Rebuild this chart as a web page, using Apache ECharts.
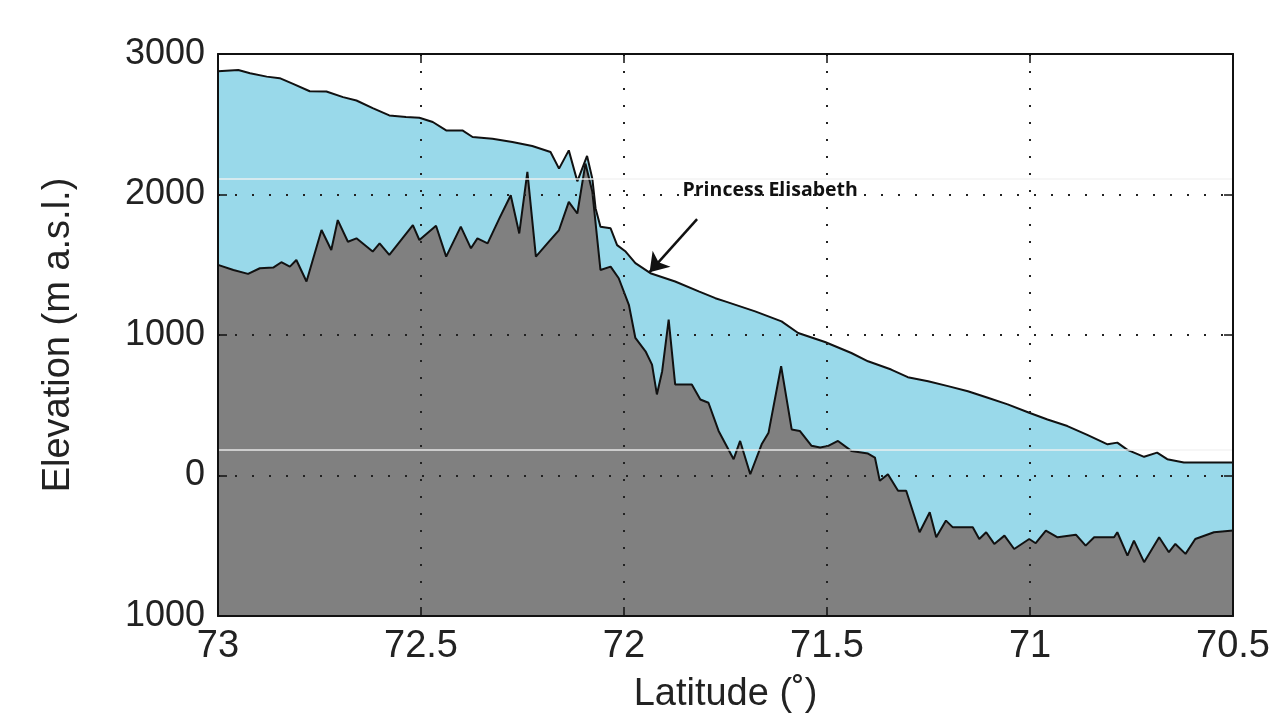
<!DOCTYPE html>
<html>
<head>
<meta charset="utf-8">
<script src="https://cdn.jsdelivr.net/npm/echarts@6/dist/echarts.min.js"></script>
<style>
  html, body { margin: 0; padding: 0; background: #fff; }
  #main { width: 1273px; height: 719px; }
</style>
</head>
<body>
<div id="main"></div>
<script>
// ice surface profile (latitude, m a.s.l.)
const surfaceLat = [73.0, 72.95, 72.921, 72.88, 72.848, 72.815, 72.774, 72.733, 72.692, 72.659,
  72.619, 72.578, 72.537, 72.504, 72.471, 72.438, 72.398, 72.373, 72.324, 72.275,
  72.226, 72.181, 72.16, 72.136, 72.115, 72.091, 72.078, 72.07, 72.058, 72.033,
  72.017, 71.996, 71.972, 71.935, 71.874, 71.816, 71.775, 71.751, 71.677, 71.612,
  71.571, 71.505, 71.44, 71.399, 71.342, 71.301, 71.251, 71.202, 71.153, 71.104,
  71.055, 71.002, 70.957, 70.908, 70.859, 70.809, 70.785, 70.76, 70.719, 70.687,
  70.662, 70.621, 70.5];
const surfaceElev = [2877, 2886, 2863, 2839, 2828, 2787, 2735, 2733, 2693, 2669,
  2615, 2563, 2551, 2546, 2516, 2456, 2456, 2409, 2397, 2374,
  2345, 2303, 2184, 2314, 2094, 2275, 2113, 1901, 1771, 1759,
  1640, 1594, 1511, 1440, 1381, 1310, 1262, 1239, 1168, 1097,
  1014, 950, 872, 813, 754, 700, 671, 636, 600, 553,
  506, 447, 399, 352, 289, 222, 234, 182, 133, 163,
  116, 92, 92];

// bedrock profile
const bedLat = [73.0, 72.962, 72.926, 72.897, 72.864, 72.844, 72.823, 72.807, 72.782, 72.745,
  72.721, 72.705, 72.68, 72.659, 72.619, 72.602, 72.578, 72.52, 72.504, 72.463,
  72.438, 72.402, 72.377, 72.361, 72.336, 72.307, 72.279, 72.258, 72.238, 72.217,
  72.185, 72.16, 72.136, 72.115, 72.095, 72.078, 72.058, 72.033, 72.013, 71.988,
  71.972, 71.947, 71.931, 71.919, 71.906, 71.89, 71.874, 71.833, 71.812, 71.792,
  71.767, 71.73, 71.714, 71.689, 71.661, 71.644, 71.613, 71.587, 71.567, 71.538,
  71.517, 71.497, 71.473, 71.44, 71.399, 71.382, 71.37, 71.35, 71.325, 71.305,
  71.272, 71.247, 71.231, 71.207, 71.19, 71.141, 71.125, 71.108, 71.088, 71.063,
  71.039, 71.002, 70.986, 70.961, 70.932, 70.887, 70.863, 70.842, 70.793, 70.785,
  70.76, 70.744, 70.719, 70.682, 70.658, 70.642, 70.617, 70.593, 70.547, 70.5];
const bedElev = [1499, 1463, 1435, 1475, 1480, 1518, 1487, 1534, 1381, 1747,
  1605, 1818, 1664, 1688, 1594, 1652, 1570, 1782, 1676, 1778,
  1558, 1771, 1617, 1688, 1652, 1830, 1995, 1723, 2161, 1558,
  1664, 1747, 1948, 1865, 2220, 2019, 1463, 1487, 1404, 1215,
  979, 884, 789, 577, 742, 1109, 648, 648, 541, 518,
  317, 116, 246, 9, 222, 305, 778, 328, 317, 211,
  199, 211, 246, 175, 156, 128, -38, 9, -109, -109,
  -404, -262, -440, -321, -369, -369, -452, -404, -487, -428,
  -523, -452, -482, -392, -440, -421, -499, -440, -440, -404,
  -570, -463, -617, -440, -546, -487, -558, -452, -404, -392];

const stationLabel = 'Princess Elisabeth';
const stationTip = [71.937, 1447];
const stationTail = [71.82, 1825];
const stationText = [71.64, 2028];
const scanLines = [2113, 184];

const surfaceData = surfaceLat.map((x, i) => [x, surfaceElev[i]]);
const bedData = bedLat.map((x, i) => [x, bedElev[i]]);

const FONT = 'Liberation Sans';
const frame = { show: true, onZero: false, lineStyle: { color: '#111', width: 2 } };
const ticks = { show: true, inside: true, length: 9, lineStyle: { color: '#111', width: 1.5 } };
const dots = { show: true, lineStyle: { color: '#222', width: 2, type: [2, 15] } };

const chart = echarts.init(document.getElementById('main'));
chart.setOption({
  backgroundColor: '#fff',
  animation: false,
  grid: { left: 218, right: 37, top: 54, bottom: 100 },
  xAxis: [
    {
      type: 'value', position: 'bottom', inverse: true,
      min: 70.5, max: 73, interval: 0.5, z: 10,
      axisLine: frame, axisTick: ticks, splitLine: dots,
      axisLabel: { fontFamily: FONT, fontSize: 38, color: '#222', margin: 12 },
      name: 'Latitude (˚)', nameLocation: 'middle', nameGap: 60,
      nameTextStyle: { fontFamily: FONT, fontSize: 38, color: '#222' }
    },
    {
      type: 'value', position: 'top', inverse: true,
      min: 70.5, max: 73, interval: 0.5, z: 10,
      axisLine: frame, axisTick: ticks,
      axisLabel: { show: false }, splitLine: { show: false }
    }
  ],
  yAxis: [
    {
      type: 'value', position: 'left',
      min: -1000, max: 3000, interval: 1000, z: 10,
      axisLine: frame, axisTick: ticks, splitLine: dots,
      axisLabel: {
        fontFamily: FONT, fontSize: 36, color: '#222', margin: 13,
        formatter: v => String(Math.abs(v))
      },
      name: 'Elevation (m a.s.l.)', nameLocation: 'middle', nameGap: 140,
      nameTextStyle: { fontFamily: FONT, fontSize: 38, color: '#222' }
    },
    {
      type: 'value', position: 'right',
      min: -1000, max: 3000, interval: 1000, z: 10,
      axisLine: frame, axisTick: ticks,
      axisLabel: { show: false }, splitLine: { show: false }
    }
  ],
  series: [
    {
      name: 'Surface', type: 'line', data: surfaceData,
      showSymbol: false, z: 2,
      lineStyle: { color: '#111', width: 2 },
      areaStyle: { color: '#99D9EA', opacity: 1, origin: 'start' }
    },
    {
      name: 'Bed', type: 'line', data: bedData,
      showSymbol: false, z: 3,
      lineStyle: { color: '#111', width: 2 },
      areaStyle: { color: '#808080', opacity: 1, origin: 'start' }
    },
    {
      name: 'Annotations', type: 'line', data: [], z: 12,
      markLine: {
        silent: true, animation: false,
        symbol: ['none', 'none'], label: { show: false },
        lineStyle: { color: '#f2f2f2', width: 1.5, type: 'solid', opacity: 0.9 },
        data: scanLines.map(v => ({ yAxis: v }))
      },
      markPoint: {
        silent: true, animation: false,
        symbol: 'rect', symbolSize: 0,
        label: {
          show: true, position: 'inside', formatter: stationLabel,
          fontFamily: 'Open Sans', fontWeight: 'bold', fontSize: 19.5, color: '#111'
        },
        data: [{ coord: stationText }]
      }
    },
    {
      name: 'Arrow', type: 'line', data: [], z: 12,
      markLine: {
        silent: true, animation: false,
        symbol: ['none', 'arrow'], symbolSize: 18,
        label: { show: false },
        lineStyle: { color: '#111', width: 2.5, type: 'solid' },
        data: [[{ coord: stationTail }, { coord: stationTip }]]
      }
    }
  ]
});
</script>
</body>
</html>
